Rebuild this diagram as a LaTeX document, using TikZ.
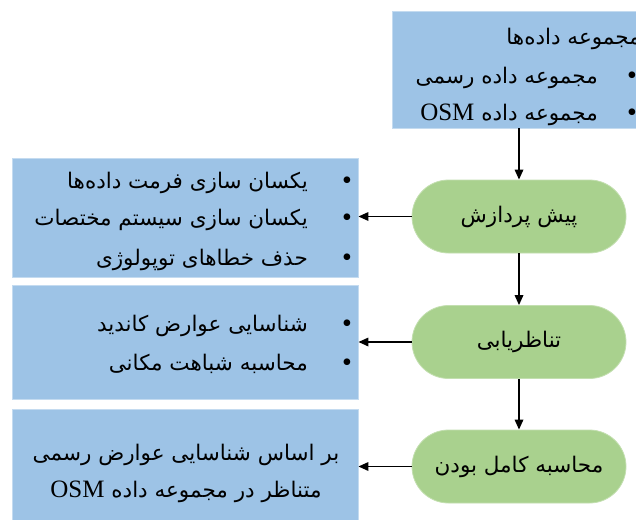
\documentclass[tikz,border=0pt]{standalone}
\usepackage{fontspec}
\setmainfont{Liberation Serif}
\newfontfamily\fa[Script=Arabic]{DejaVu Sans}
\newfontfamily\lat{Liberation Serif}
\newcommand\osmword{{\lat\fontsize{25}{28}\selectfont OSM}}
\TeXXeTstate=1
\usetikzlibrary{arrows.meta,shapes.misc}
\definecolor{boxblue}{HTML}{9DC3E6}
\definecolor{pillgreen}{HTML}{A9D18E}
\begin{document}
\begin{tikzpicture}[x=1pt,y=-1pt,
  box/.style={rectangle, fill=boxblue, draw=boxblue!60!white, line width=0.8pt, inner sep=0},
  pill/.style={rounded rectangle, fill=pillgreen, draw=pillgreen!70!white, line width=0.8pt, minimum width=214pt, minimum height=73pt, inner sep=0, font=\fa\fontsize{21.5}{24}\selectfont},
  txt/.style={font=\fa\fontsize{21.5}{24}\selectfont, anchor=base east, inner sep=0},
  ctxt/.style={font=\fa\fontsize{21.5}{24}\selectfont, anchor=base, inner sep=0},
  bul/.style={font=\fontsize{28}{30}\selectfont, anchor=base, inner sep=0},
  arr/.style={-{Triangle[length=10pt,width=8.5pt]}, line width=1.7pt}]
\clip (0,0) rectangle (636,519);
\fill[white] (0,0) rectangle (636,519);
% boxes
\node[box, minimum width=268pt, minimum height=117pt] (top) at (526,69.5) {};
\node[box, minimum width=346pt, minimum height=119pt] (bA) at (185,217.5) {};
\node[box, minimum width=346pt, minimum height=114pt] (bB) at (185,342) {};
\node[box, minimum width=346pt, minimum height=131pt] (bC) at (185,474.5) {};
% pills
\node[pill] (p1) at (519,216.5) {\beginR پیش پردازش\endR};
\node[pill] (p2) at (519,342) {\beginR تناظریابی\endR};
\node[pill] (p3) at (519,466.5) {\beginR محاسبه کامل بودن\endR};
% connectors
\draw[arr] (p1.north |- top.south) -- (p1.north);
\draw[arr] (p1.south) -- (p2.north);
\draw[arr] (p2.south) -- (p3.north);
\draw[arr] (p1.west) -- (p1.west -| bA.east);
\draw[arr] (p2.west) -- (p2.west -| bB.east);
\draw[arr] (p3.west) -- (p3.west -| bC.east);
% top box text
\node[txt] (t0) at (641,45) {\beginR مجموعه داده‌ها\endR};
\node[bul] (tb1) at (632,84) {•};
\node[txt] (t1) at (598,83) {\beginR مجموعه داده رسمی\endR};
\node[bul] (tb2) at (632,121) {•};
\node[txt] (t2) at (598,120) {\beginR مجموعه داده \beginL\osmword\endL\endR};
% box A
\node[bul] (ab1) at (347,189) {•};
\node[txt] (a1) at (308,188) {\beginR یکسان سازی فرمت داده‌ها\endR};
\node[bul] (ab2) at (347,226) {•};
\node[txt] (a2) at (308,225) {\beginR یکسان سازی سیستم مختصات\endR};
\node[bul] (ab3) at (347,266) {•};
\node[txt] (a3) at (308,265) {\beginR حذف خطاهای توپولوژی\endR};
% box B
\node[bul] (bb1) at (347,332) {•};
\node[txt] (b1) at (308,331) {\beginR شناسایی عوارض کاندید\endR};
\node[bul] (bb2) at (347,371) {•};
\node[txt] (b2) at (308,370) {\beginR محاسبه شباهت مکانی\endR};
% box C
\node[ctxt] (c1) at (186,460) {\beginR بر اساس شناسایی عوارض رسمی\endR};
\node[ctxt] (c2) at (186,497) {\beginR متناظر در مجموعه داده \beginL\osmword\endL\endR};
\end{tikzpicture}
\end{document}
